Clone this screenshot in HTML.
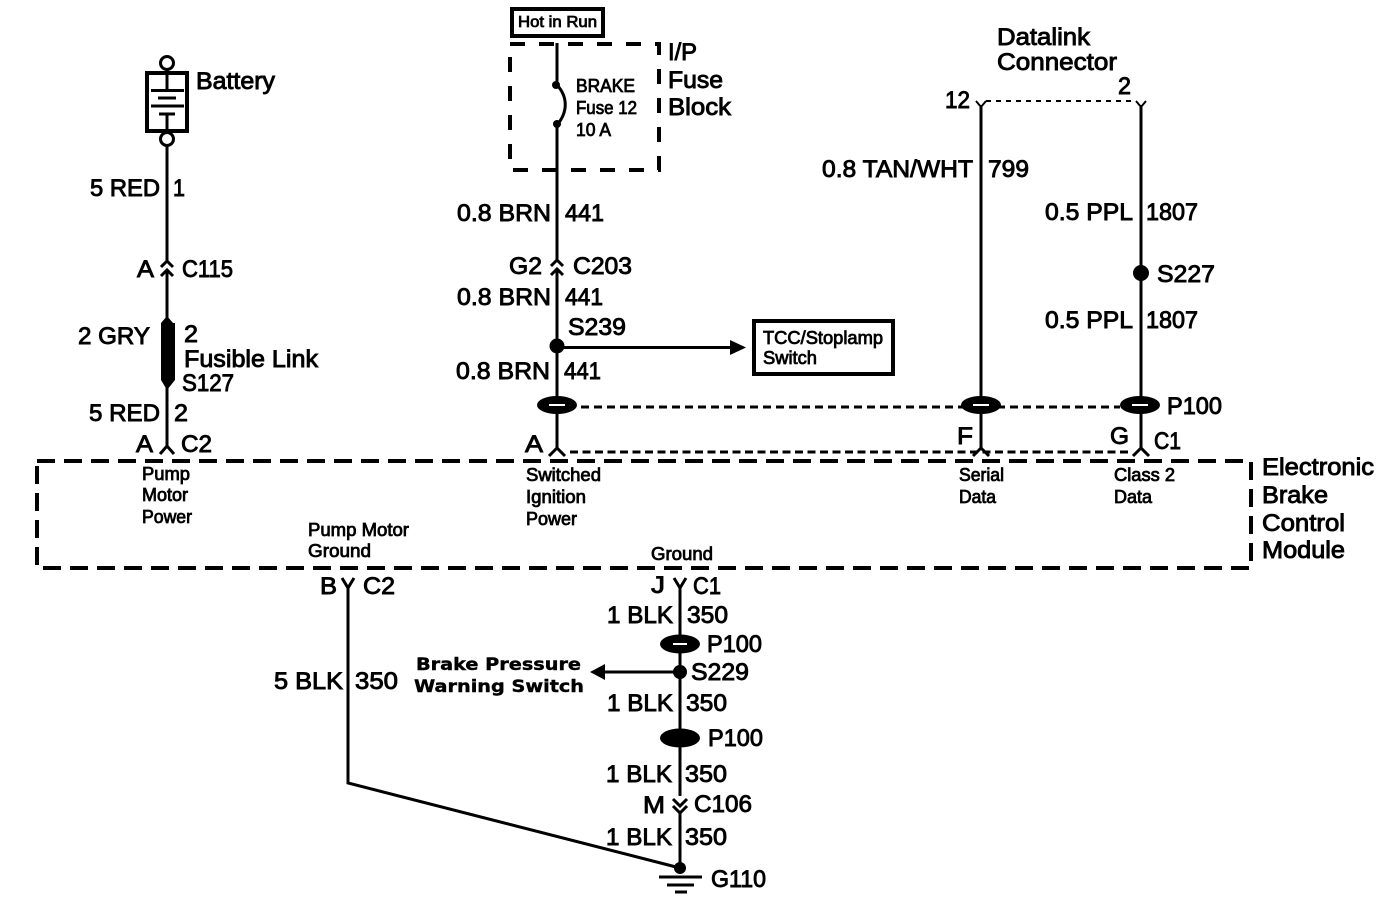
<!DOCTYPE html>
<html><head><meta charset="utf-8"><style>
html,body{margin:0;padding:0;background:#fff;width:1392px;height:898px;overflow:hidden}
svg{display:block}
text{font-family:"Liberation Sans",sans-serif;fill:#000;stroke:#000;stroke-width:.9;transform:translateY(-1px)}
.l{font-size:24px}.s{font-size:18px;stroke-width:.8}
.b{font-family:"DejaVu Sans",sans-serif;font-weight:bold;font-size:17px;stroke-width:.4}
.w{fill:none;stroke:#000;stroke-width:3}
</style></head><body>
<svg width="1392" height="898" viewBox="0 0 1392 898" xmlns="http://www.w3.org/2000/svg">
<rect width="1392" height="898" fill="#fff"/>
<!-- dashed boxes -->
<rect x="37" y="461" width="1214" height="107" fill="none" stroke="#000" stroke-width="4" stroke-dasharray="18 9"/>
<rect x="510" y="44" width="149" height="126" fill="none" stroke="#000" stroke-width="4" stroke-dasharray="15 14"/>
<line x1="581" y1="407" x2="1120" y2="407" stroke="#000" stroke-width="3" stroke-dasharray="8 5"/>
<line x1="570" y1="452" x2="1128" y2="452" stroke="#000" stroke-width="3" stroke-dasharray="8 4.5"/>
<line x1="986" y1="101" x2="1136" y2="101" stroke="#000" stroke-width="2" stroke-dasharray="5 5"/>
<!-- battery -->
<circle cx="167" cy="63" r="6.5" fill="#fff" stroke="#000" stroke-width="3"/>
<rect x="147" y="73" width="40" height="58" fill="#fff" stroke="#000" stroke-width="4"/>
<circle cx="167" cy="139" r="6.5" fill="#fff" stroke="#000" stroke-width="3"/>
<path class="w" d="M167 70V90M151 90.500H184M158 98H176M151 106H184M159 114H175M167 114V131"/>
<!-- left wire -->
<path class="w" d="M167 146V260M167 270V323M167 380V446"/>
<path class="w" d="M161 267L167 261L173 267M161 276L167 270L173 276"/>
<rect x="161" y="323" width="14" height="57" fill="#000"/>
<path d="M161 323L167 316L173 323ZM161 380L167 390L175 380Z" fill="#000"/>
<path class="w" d="M160 454L167 446L174 454"/>
<!-- hot in run -->
<rect x="512" y="9" width="91" height="27" fill="#fff" stroke="#000" stroke-width="4"/>
<!-- center wire -->
<path class="w" d="M557 43V85M557 125V259M557 270V448"/>
<path class="w" d="M557 85C568 97 568 112 557 125"/>
<circle cx="556" cy="85" r="4"/><circle cx="557" cy="124" r="4"/>
<path class="w" d="M551 266L557 260L563 266M551 275L557 269L563 275"/>
<circle cx="557" cy="346" r="7.500"/>
<line x1="557" y1="347.500" x2="732" y2="347.500" stroke="#000" stroke-width="3"/>
<path d="M730 340L746 347.500L730 355Z"/>
<rect x="754" y="321" width="139" height="53" fill="#fff" stroke="#000" stroke-width="4"/>
<path class="w" d="M549 456L557 448L565 456"/>
<!-- datalink wires -->
<path class="w" d="M981 105V448M1141 105V448"/>
<path d="M976 101L981 107L986 101M1136 101L1141 107L1146 101" fill="none" stroke="#000" stroke-width="2"/>
<circle cx="1141" cy="273" r="8"/>
<path class="w" d="M973 456L981 448L989 456M1133 456L1141 448L1149 456"/>
<!-- shields -->
<g>
<ellipse cx="557" cy="405" rx="20" ry="9"/><rect x="549" y="404" width="16" height="2" fill="#fff"/>
<ellipse cx="981" cy="405" rx="20" ry="9"/><rect x="973" y="404" width="16" height="2" fill="#fff"/>
<ellipse cx="1140" cy="405" rx="20" ry="9"/><rect x="1132" y="404" width="16" height="2" fill="#fff"/>
</g>
<!-- lower wires -->
<path class="w" d="M348 586V783L680 868"/>
<path class="w" d="M342 578L348 588L354 578M674 578L680 588L686 578"/>
<path class="w" d="M680 586V796M680 812V870"/>
<path class="w" d="M673 799L680 806L687 799M673 806L680 813L687 806"/>
<ellipse cx="680" cy="644" rx="20" ry="9.500"/><rect x="673" y="643" width="14" height="2" fill="#fff"/>
<ellipse cx="680" cy="738" rx="20" ry="9.500"/>
<circle cx="680" cy="672" r="7"/>
<line x1="604" y1="672" x2="680" y2="672" stroke="#000" stroke-width="3"/>
<path d="M605 664L590 672L605 680Z"/>
<circle cx="680" cy="868" r="6"/>
<path d="M659 877H702M667 885H694M675 892H687" fill="none" stroke="#000" stroke-width="3"/>
<!-- text left -->
<text class="l" x="196" y="90" textLength="79" lengthAdjust="spacingAndGlyphs">Battery</text>
<text class="l" x="90" y="197" textLength="70" lengthAdjust="spacingAndGlyphs">5 RED</text>
<text class="l" x="173" y="197" textLength="12" lengthAdjust="spacingAndGlyphs">1</text>
<text class="l" x="137" y="278" textLength="17" lengthAdjust="spacingAndGlyphs">A</text>
<text class="l" x="182" y="278" textLength="51" lengthAdjust="spacingAndGlyphs">C115</text>
<text class="l" x="78" y="345" textLength="72" lengthAdjust="spacingAndGlyphs">2 GRY</text>
<text class="l" x="184" y="343" textLength="14" lengthAdjust="spacingAndGlyphs">2</text>
<text class="l" x="184" y="368" textLength="134" lengthAdjust="spacingAndGlyphs">Fusible Link</text>
<text class="l" x="182" y="392" textLength="52" lengthAdjust="spacingAndGlyphs">S127</text>
<text class="l" x="89" y="422" textLength="71" lengthAdjust="spacingAndGlyphs">5 RED</text>
<text class="l" x="174" y="422" textLength="14" lengthAdjust="spacingAndGlyphs">2</text>
<text class="l" x="136" y="453" textLength="17" lengthAdjust="spacingAndGlyphs">A</text>
<text class="l" x="181" y="453" textLength="31" lengthAdjust="spacingAndGlyphs">C2</text>
<text class="s" x="142" y="481" textLength="48" lengthAdjust="spacingAndGlyphs">Pump</text>
<text class="s" x="142" y="502" textLength="46" lengthAdjust="spacingAndGlyphs">Motor</text>
<text class="s" x="142" y="524" textLength="50" lengthAdjust="spacingAndGlyphs">Power</text>
<text class="s" x="308" y="537" textLength="101" lengthAdjust="spacingAndGlyphs">Pump Motor</text>
<text class="s" x="308" y="558" textLength="63" lengthAdjust="spacingAndGlyphs">Ground</text>
<text class="l" x="320" y="595" textLength="17" lengthAdjust="spacingAndGlyphs">B</text>
<text class="l" x="363" y="595" textLength="32" lengthAdjust="spacingAndGlyphs">C2</text>
<text class="l" x="274" y="690" textLength="69" lengthAdjust="spacingAndGlyphs">5 BLK</text>
<text class="l" x="355" y="690" textLength="43" lengthAdjust="spacingAndGlyphs">350</text>
<text class="b" x="416" y="671" textLength="165" lengthAdjust="spacingAndGlyphs">Brake Pressure</text>
<text class="b" x="414" y="693" textLength="170" lengthAdjust="spacingAndGlyphs">Warning Switch</text>
<!-- text lower center -->
<text class="s" x="651" y="561" textLength="62" lengthAdjust="spacingAndGlyphs">Ground</text>
<text class="l" x="651" y="594" textLength="14" lengthAdjust="spacingAndGlyphs">J</text>
<text class="l" x="693" y="595" textLength="28" lengthAdjust="spacingAndGlyphs">C1</text>
<text class="l" x="607" y="624" textLength="66" lengthAdjust="spacingAndGlyphs">1 BLK</text>
<text class="l" x="687" y="624" textLength="41" lengthAdjust="spacingAndGlyphs">350</text>
<text class="l" x="707" y="653" textLength="55" lengthAdjust="spacingAndGlyphs">P100</text>
<text class="l" x="691" y="681" textLength="58" lengthAdjust="spacingAndGlyphs">S229</text>
<text class="l" x="607" y="712" textLength="66" lengthAdjust="spacingAndGlyphs">1 BLK</text>
<text class="l" x="686" y="712" textLength="41" lengthAdjust="spacingAndGlyphs">350</text>
<text class="l" x="708" y="747" textLength="55" lengthAdjust="spacingAndGlyphs">P100</text>
<text class="l" x="606" y="783" textLength="66" lengthAdjust="spacingAndGlyphs">1 BLK</text>
<text class="l" x="685" y="783" textLength="42" lengthAdjust="spacingAndGlyphs">350</text>
<text class="l" x="643" y="814" textLength="22" lengthAdjust="spacingAndGlyphs">M</text>
<text class="l" x="694" y="813" textLength="58" lengthAdjust="spacingAndGlyphs">C106</text>
<text class="l" x="606" y="846" textLength="66" lengthAdjust="spacingAndGlyphs">1 BLK</text>
<text class="l" x="685" y="846" textLength="42" lengthAdjust="spacingAndGlyphs">350</text>
<text class="l" x="711" y="888" textLength="55" lengthAdjust="spacingAndGlyphs">G110</text>
<!-- text top center -->
<text class="s" x="518" y="28" textLength="79" lengthAdjust="spacingAndGlyphs" style="font-size:16px">Hot in Run</text>
<text class="l" x="668" y="61" textLength="29" lengthAdjust="spacingAndGlyphs">I/P</text>
<text class="l" x="668" y="89" textLength="55" lengthAdjust="spacingAndGlyphs">Fuse</text>
<text class="l" x="668" y="116" textLength="63" lengthAdjust="spacingAndGlyphs">Block</text>
<text class="s" x="576" y="93" textLength="59" lengthAdjust="spacingAndGlyphs">BRAKE</text>
<text class="s" x="576" y="115" textLength="61" lengthAdjust="spacingAndGlyphs">Fuse 12</text>
<text class="s" x="576" y="137" textLength="35" lengthAdjust="spacingAndGlyphs">10 A</text>
<text class="l" x="457" y="222" textLength="94" lengthAdjust="spacingAndGlyphs">0.8 BRN</text>
<text class="l" x="565" y="222" textLength="39" lengthAdjust="spacingAndGlyphs">441</text>
<text class="l" x="509" y="275" textLength="33" lengthAdjust="spacingAndGlyphs">G2</text>
<text class="l" x="573" y="275" textLength="59" lengthAdjust="spacingAndGlyphs">C203</text>
<text class="l" x="457" y="306" textLength="94" lengthAdjust="spacingAndGlyphs">0.8 BRN</text>
<text class="l" x="565" y="306" textLength="38" lengthAdjust="spacingAndGlyphs">441</text>
<text class="l" x="568" y="336" textLength="58" lengthAdjust="spacingAndGlyphs">S239</text>
<text class="l" x="456" y="380" textLength="94" lengthAdjust="spacingAndGlyphs">0.8 BRN</text>
<text class="l" x="564" y="380" textLength="37" lengthAdjust="spacingAndGlyphs">441</text>
<text class="l" x="525" y="453" textLength="18" lengthAdjust="spacingAndGlyphs">A</text>
<text class="s" x="763" y="345" textLength="120" lengthAdjust="spacingAndGlyphs">TCC/Stoplamp</text>
<text class="s" x="763" y="365" textLength="54" lengthAdjust="spacingAndGlyphs">Switch</text>
<text class="s" x="526" y="482" textLength="75" lengthAdjust="spacingAndGlyphs">Switched</text>
<text class="s" x="526" y="504" textLength="60" lengthAdjust="spacingAndGlyphs">Ignition</text>
<text class="s" x="526" y="526" textLength="51" lengthAdjust="spacingAndGlyphs">Power</text>
<!-- text right -->
<text class="l" x="997" y="46" textLength="93" lengthAdjust="spacingAndGlyphs">Datalink</text>
<text class="l" x="997" y="71" textLength="120" lengthAdjust="spacingAndGlyphs">Connector</text>
<text class="l" x="945" y="109" textLength="25" lengthAdjust="spacingAndGlyphs">12</text>
<text class="l" x="1118" y="95" textLength="13" lengthAdjust="spacingAndGlyphs">2</text>
<text class="l" x="822" y="178" textLength="151" lengthAdjust="spacingAndGlyphs">0.8 TAN/WHT</text>
<text class="l" x="988" y="178" textLength="41" lengthAdjust="spacingAndGlyphs">799</text>
<text class="l" x="1045" y="221" textLength="88" lengthAdjust="spacingAndGlyphs">0.5 PPL</text>
<text class="l" x="1146" y="221" textLength="52" lengthAdjust="spacingAndGlyphs">1807</text>
<text class="l" x="1157" y="283" textLength="58" lengthAdjust="spacingAndGlyphs">S227</text>
<text class="l" x="1045" y="329" textLength="88" lengthAdjust="spacingAndGlyphs">0.5 PPL</text>
<text class="l" x="1146" y="329" textLength="52" lengthAdjust="spacingAndGlyphs">1807</text>
<text class="l" x="1167" y="415" textLength="55" lengthAdjust="spacingAndGlyphs">P100</text>
<text class="l" x="957" y="445" textLength="16" lengthAdjust="spacingAndGlyphs">F</text>
<text class="l" x="1110" y="445" textLength="19" lengthAdjust="spacingAndGlyphs">G</text>
<text class="l" x="1154" y="450" textLength="27" lengthAdjust="spacingAndGlyphs">C1</text>
<text class="s" x="959" y="482" textLength="45" lengthAdjust="spacingAndGlyphs">Serial</text>
<text class="s" x="959" y="504" textLength="37" lengthAdjust="spacingAndGlyphs">Data</text>
<text class="s" x="1114" y="482" textLength="61" lengthAdjust="spacingAndGlyphs">Class 2</text>
<text class="s" x="1114" y="504" textLength="38" lengthAdjust="spacingAndGlyphs">Data</text>
<text class="l" x="1262" y="476" textLength="112" lengthAdjust="spacingAndGlyphs">Electronic</text>
<text class="l" x="1262" y="504" textLength="66" lengthAdjust="spacingAndGlyphs">Brake</text>
<text class="l" x="1262" y="532" textLength="83" lengthAdjust="spacingAndGlyphs">Control</text>
<text class="l" x="1262" y="559" textLength="83" lengthAdjust="spacingAndGlyphs">Module</text>
</svg>
</body></html>
